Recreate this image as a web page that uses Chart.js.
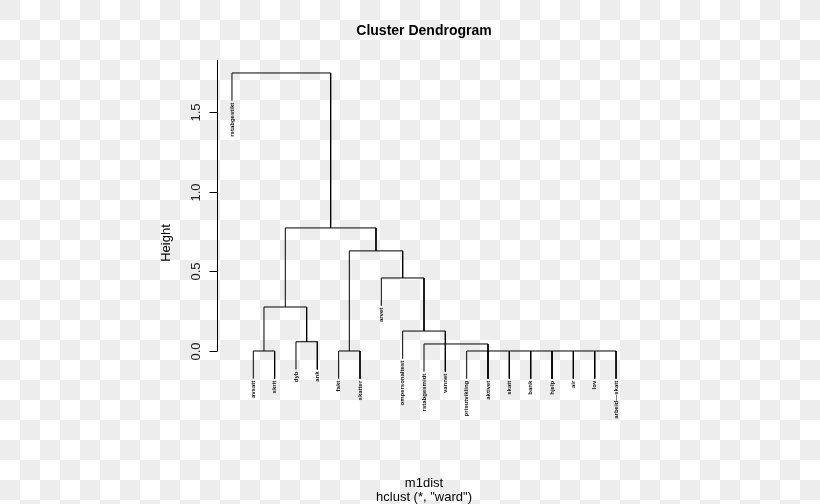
<!DOCTYPE html>
<html>
<head>
<meta charset="utf-8">
<script src="https://cdn.jsdelivr.net/npm/chart.js@4/dist/chart.umd.min.js"></script>
<style>
    html, body {
        margin: 0;
        padding: 0;
        width: 820px;
        height: 504px;
        overflow: hidden;
        /* fondo a cuadros como en la imagen original */
        background: repeating-conic-gradient(#ffffff 0 25%, #ededed 0 50%) 0 0 / 40px 40px;
    }
    canvas { display: block; }
</style>
</head>
<body>
<canvas id="dendro" width="820" height="504"></canvas>
<script>
// Etiquetas de las hojas (en orden de izquierda a derecha)
const leafLabels = ['rstabgestikt', 'avsatt', 'skrit', 'dyb', 'ank', 'fakt', 'skatter', 'arvet',
    'ompersonaltest', 'rstabgesmidt', 'vannet', 'prisutvikling', 'aktivet', 'skatt', 'bank',
    'hjelp', 'air', 'lov', 'arbeid\u2014skatt'];

// Uniones del dendrograma: posicion izquierda/derecha (en indices de hoja),
// altura de la union y altura donde termina cada brazo
const linkLeft   = [1,     3.5,   2.5,   2,      4,      6.5,   6,      8,     9,      10,     12,     13,     14,     15,     16,     17,     18];
const linkRight  = [5.625, 7.75,  4.5,   3,      5,      9,     7,      10,    11,     13,     13,     14,     15,     16,     17,     18,     19];
const linkHeight = [1.744, 0.772, 0.276, 0,      0.058,  0.628, 0,      0.458, 0.125,  0.044,  0,      0,      0,      0,      0,      0,      0];
const linkEndL   = [1.570, 0.276, 0,     -0.174, -0.116, 0,     -0.174, 0.284, -0.049, -0.130, -0.174, -0.174, -0.174, -0.174, -0.174, -0.174, -0.174];
const linkEndR   = [0.772, 0.628, 0.058, -0.174, -0.116, 0.458, -0.174, 0.125, -0.130, 0,      -0.174, -0.174, -0.174, -0.174, -0.174, -0.174, -0.174];

// Marcas del eje Y
const yTicks = [0, 0.5, 1.0, 1.5];
const yTickLabels = ['0.0', '0.5', '1.0', '1.5'];

// Textos
const mainTitle = 'Cluster Dendrogram';
const yTitle = 'Height';
const xTitle = 'm1dist';
const subTitle = 'hclust (*, "ward")';

// Construir un dataset por cada union (forma de U invertida)
const datasets = linkLeft.map(function(left, i) {
    return {
        data: [
            { x: left, y: linkEndL[i] },
            { x: left, y: linkHeight[i] },
            { x: linkRight[i], y: linkHeight[i] },
            { x: linkRight[i], y: linkEndR[i] }
        ],
        borderColor: '#000000',
        borderWidth: 1,
        pointRadius: 0,
        fill: false,
        tension: 0
    };
});

// Punto inferior de cada hoja = el extremo mas bajo que cae en su posicion
const leafBottom = leafLabels.map(function(lab, idx) {
    const pos = idx + 1;
    let low = Infinity;
    linkLeft.forEach(function(l, i) {
        if (l === pos) low = Math.min(low, linkEndL[i]);
        if (linkRight[i] === pos) low = Math.min(low, linkEndR[i]);
    });
    return low;
});

// Plugin para ejes, etiquetas y titulos al estilo de R
const rStylePlugin = {
    id: 'rStyle',
    afterDraw: function(chart) {
        const ctx = chart.ctx;
        const xs = chart.scales.x;
        const ys = chart.scales.y;
        const area = chart.chartArea;
        const axisX = Math.round(area.left) + 0.5;

        ctx.save();
        ctx.strokeStyle = '#000';
        ctx.lineWidth = 1;

        // linea del eje Y
        ctx.beginPath();
        ctx.moveTo(axisX, Math.round(area.top) - 1);
        ctx.lineTo(axisX, Math.round(ys.getPixelForValue(0)) + 0.5);
        ctx.stroke();

        // marcas y textos del eje Y
        ctx.fillStyle = '#222';
        ctx.font = '13px "Liberation Sans", Arial, sans-serif';
        ctx.textAlign = 'center';
        ctx.textBaseline = 'middle';
        yTicks.forEach(function(v, i) {
            const py = Math.round(ys.getPixelForValue(v)) + 0.5;
            ctx.beginPath();
            ctx.moveTo(axisX - 8, py);
            ctx.lineTo(axisX, py);
            ctx.stroke();
            ctx.save();
            ctx.translate(axisX - 21, py);
            ctx.rotate(-Math.PI / 2);
            ctx.fillText(yTickLabels[i], 0, 0);
            ctx.restore();
        });

        // titulo del eje Y
        ctx.save();
        ctx.translate(166, 243);
        ctx.rotate(-Math.PI / 2);
        ctx.fillStyle = '#000';
        ctx.fillText(yTitle, 0, 0);
        ctx.restore();

        // etiquetas de las hojas
        ctx.font = 'bold 6px "Liberation Sans", Arial, sans-serif';
        ctx.fillStyle = '#111';
        ctx.textAlign = 'right';
        leafLabels.forEach(function(lab, i) {
            const px = xs.getPixelForValue(i + 1);
            const py = ys.getPixelForValue(leafBottom[i]) + 2;
            ctx.save();
            ctx.translate(px, py);
            ctx.rotate(-Math.PI / 2);
            ctx.fillText(lab, 0, 0);
            ctx.restore();
        });

        // titulos
        const cx = (area.left + area.right) / 2;
        ctx.fillStyle = '#000';
        ctx.textAlign = 'center';
        ctx.font = 'bold 14px "Liberation Sans", Arial, sans-serif';
        ctx.fillText(mainTitle, cx, 31);
        ctx.font = '13px "Liberation Sans", Arial, sans-serif';
        ctx.fillText(xTitle, cx, 483);
        ctx.fillText(subTitle, cx, 497);
        ctx.restore();
    }
};

document.addEventListener('DOMContentLoaded', function() {
    const ctx = document.getElementById('dendro').getContext('2d');
    new Chart(ctx, {
        type: 'line',
        data: { datasets: datasets },
        options: {
            responsive: false,
            animation: false,
            parsing: true,
            layout: {
                padding: { left: 216.6, right: 188.6, top: 60.7, bottom: 113 }
            },
            scales: {
                x: { type: 'linear', min: 0.28, max: 19.72, display: false },
                y: { type: 'linear', min: -0.251, max: 1.821, display: false }
            },
            plugins: {
                legend: { display: false },
                tooltip: { enabled: false },
                title: { display: false }
            }
        },
        plugins: [rStylePlugin]
    });
});
</script>
</body>
</html>
